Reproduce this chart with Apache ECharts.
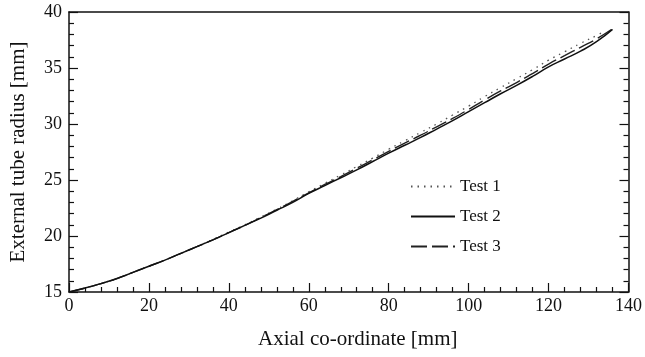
<!DOCTYPE html>
<html><head><meta charset="utf-8">
<script src="https://cdn.jsdelivr.net/npm/echarts@6/dist/echarts.min.js"></script>
<style>html,body{margin:0;padding:0;background:#fff}#c{width:645px;height:357px}</style>
</head><body><div id="c"></div>
<script>
const xTicks = [0, 20, 40, 60, 80, 100, 120, 140];
const yTicks = [15, 20, 25, 30, 35, 40];
const test1 = [[0,15.0],[4,15.35],[8,15.75],[12,16.2],[16,16.75],[20,17.3],[24,17.85],[28,18.45],[32,19.05],[36,19.7],[40,20.35],[44,21.0],[48,21.7],[52,22.4],[56,23.15],[60,23.95],[64,24.7],[68,25.45],[72,26.2],[76,26.95],[80,27.75],[84,28.5],[88,29.25],[92,30.0],[96,30.8],[100,31.6],[104,32.45],[108,33.25],[112,34.05],[116,34.85],[120,35.7],[124,36.45],[128,37.2],[132,37.9],[134,38.3]];
const test2 = [[0,15.0],[4,15.35],[8,15.75],[12,16.2],[16,16.75],[20,17.3],[24,17.85],[28,18.45],[32,19.05],[36,19.65],[40,20.3],[44,20.95],[48,21.6],[52,22.3],[56,23.0],[60,23.8],[64,24.5],[68,25.2],[72,25.9],[76,26.65],[80,27.4],[84,28.1],[88,28.8],[92,29.55],[96,30.3],[100,31.1],[104,31.9],[108,32.7],[112,33.45],[116,34.25],[120,35.1],[124,35.8],[128,36.5],[132,37.35],[136,38.45]];
const test3 = [[0,15.0],[4,15.35],[8,15.75],[12,16.2],[16,16.75],[20,17.3],[24,17.85],[28,18.45],[32,19.05],[36,19.65],[40,20.3],[44,20.95],[48,21.65],[52,22.35],[56,23.1],[60,23.85],[64,24.6],[68,25.3],[72,26.05],[76,26.8],[80,27.55],[84,28.3],[88,29.0],[92,29.75],[96,30.5],[100,31.3],[104,32.15],[108,32.95],[112,33.7],[116,34.5],[120,35.35],[124,36.1],[128,36.85],[132,37.6],[136,38.5]];
const names = ['Test 1', 'Test 2', 'Test 3'];

const font = '"Liberation Serif", "DejaVu Serif", serif';
const axisLine = {show: true, onZero: false, lineStyle: {color: '#111', width: 1.5}};
const tick = {inside: true, length: 9, lineStyle: {color: '#111', width: 1.2}};
const minor = {show: true, splitNumber: 5, length: 5, lineStyle: {color: '#111', width: 1.2}};
const chart = echarts.init(document.getElementById('c'));
chart.setOption({
  animation: false,
  backgroundColor: '#fff',
  grid: {left: 69, right: 14, top: 12, bottom: 65},
  legend: {
    orient: 'vertical', left: 405, top: 173, itemGap: 13, itemWidth: 44, itemHeight: 12,
    data: names,
    itemStyle: {opacity: 0},
    textStyle: {fontFamily: font, fontSize: 17, color: '#111'}
  },
  xAxis: [{
    type: 'value', min: 0, max: 140, interval: 20,
    name: 'Axial co-ordinate [mm]', nameLocation: 'middle', nameGap: 37,
    nameTextStyle: {fontFamily: font, fontSize: 21, color: '#111', padding: [0, 0, 0, 18]},
    axisLine: axisLine, axisTick: tick, minorTick: minor,
    axisLabel: {fontFamily: font, fontSize: 18, color: '#111', margin: 5, formatter: v => xTicks.includes(v) ? String(v) : ''},
    splitLine: {show: false}
  }, {
    type: 'value', min: 0, max: 140, position: 'top',
    axisLine: axisLine, axisTick: {show: false}, axisLabel: {show: false}, splitLine: {show: false}
  }],
  yAxis: [{
    type: 'value', min: 15, max: 40, interval: 5,
    name: 'External tube radius [mm]', nameLocation: 'middle', nameGap: 40,
    nameTextStyle: {fontFamily: font, fontSize: 21, color: '#111'},
    axisLine: axisLine, axisTick: tick, minorTick: minor,
    axisLabel: {fontFamily: font, fontSize: 18, color: '#111', margin: 7, formatter: v => yTicks.includes(v) ? String(v) : ''},
    splitLine: {show: false}
  }, {
    type: 'value', min: 15, max: 40, interval: 5, position: 'right',
    axisLine: axisLine, axisTick: tick, minorTick: minor,
    axisLabel: {show: false}, splitLine: {show: false}
  }],
  series: [
    {name: names[0], type: 'line', data: test1, symbol: 'none', smooth: true, z: 3,
     lineStyle: {color: '#555', width: 1.3, type: [1.5, 5]}, itemStyle: {color: '#555'}},
    {name: names[1], type: 'line', data: test2, symbol: 'none', smooth: true, z: 4,
     lineStyle: {color: '#111', width: 1.5, type: 'solid'}, itemStyle: {color: '#111'}},
    {name: names[2], type: 'line', data: test3, symbol: 'none', smooth: true, z: 3,
     lineStyle: {color: '#222', width: 1.4, type: [16, 5]}, itemStyle: {color: '#222'}}
  ]
});
</script></body></html>
